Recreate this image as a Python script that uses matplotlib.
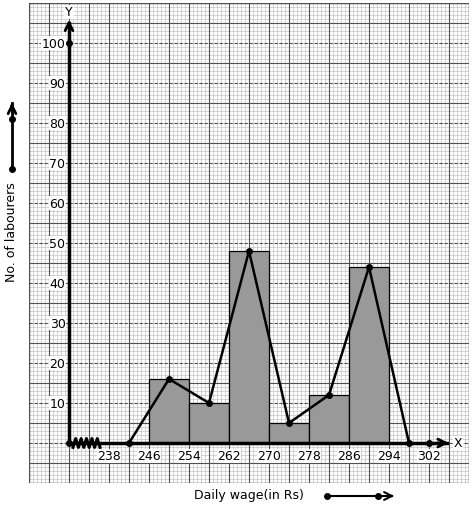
import numpy as np
import matplotlib
matplotlib.use("Agg")
from matplotlib import pyplot as plt

# data
bin_left = [246, 254, 262, 270, 278, 286]
bin_width = 8
labourers = [16, 10, 48, 5, 12, 44]
mid_points = [242, 250, 258, 266, 274, 282, 290, 298]
poly_values = [0, 16, 10, 48, 5, 12, 44, 0]
x_ticks = [238, 246, 254, 262, 270, 278, 286, 294, 302]
y_ticks = [10, 20, 30, 40, 50, 60, 70, 80, 90, 100]

fig = plt.figure(figsize=(4.74, 5.10), dpi=100)
ax = fig.add_axes([29 / 474, 26 / 510, 440 / 474, 480 / 510])
ax.set_xlim(222, 310)
ax.set_ylim(-10, 110)
ax.set_axis_off()

# graph paper
for x in np.arange(222, 310.01, 0.8):
    ax.axvline(x, color="#cccccc", lw=0.6, zorder=0)
for y in np.arange(-10, 110.01, 1):
    ax.axhline(y, color="#cccccc", lw=0.6, zorder=0)
for x in np.arange(222, 310.01, 4):
    ax.axvline(x, color="#505050", lw=0.8, zorder=1)
for y in np.arange(-10, 110.01, 5):
    if y % 10 == 0:
        ax.axhline(y, color="#505050", lw=0.8, ls=(0, (3, 1.5)), zorder=1)
    else:
        ax.axhline(y, color="#505050", lw=0.8, zorder=1)
ax.add_patch(plt.Rectangle((222, -10), 88, 120, fill=False, ec="#505050", lw=1.0, zorder=1))

# histogram
ax.bar(bin_left, labourers, width=bin_width, align="edge", color="#999999",
       edgecolor="black", lw=0.9, zorder=2)

# axes with arrows
ax.plot([230, 230], [0, 105], color="black", lw=2.5, zorder=3)
ax.plot([230, 305.5], [0, 0], color="black", lw=2.5, zorder=3)
ax.annotate("", xy=(230, 106.5), xytext=(230, 103), zorder=4,
            arrowprops=dict(arrowstyle="->", lw=2, color="black", mutation_scale=14))
ax.annotate("", xy=(306.5, 0), xytext=(303, 0), zorder=4,
            arrowprops=dict(arrowstyle="->", lw=2, color="black", mutation_scale=14))
ax.text(230, 107.8, "Y", ha="center", va="center", fontsize=9,
        bbox=dict(fc="white", ec="none", pad=0.5), zorder=4)
ax.text(307.8, 0, "X", ha="center", va="center", fontsize=9,
        bbox=dict(fc="white", ec="none", pad=0.5), zorder=4)

# axis break zigzag
zx = np.linspace(230.8, 236.2, 11)
zy = np.array([1.1 if i % 2 else -1.1 for i in range(11)])
ax.plot(zx, zy, color="black", lw=2.2, zorder=4)

# frequency polygon
ax.plot(mid_points, poly_values, color="black", lw=1.8, marker="o", ms=4, zorder=5)
ax.plot([230, 230, 302], [0, 100, 0], ls="none", marker="o", ms=4, color="black", zorder=5)

# tick labels
for v in y_ticks:
    ax.text(229.3, v, str(v), ha="right", va="center", fontsize=9,
            bbox=dict(fc="white", ec="none", pad=0.3), zorder=4)
for v in x_ticks:
    ax.text(v, -3.2, str(v), ha="center", va="center", fontsize=9,
            bbox=dict(fc="white", ec="none", pad=0.3), zorder=4)

# axis titles and pointer arrows outside the grid
fig.text(12 / 474, 1 - 232 / 510, "No. of labourers", rotation=90, ha="center",
         va="center", fontsize=9)
fig.text(249 / 474, 1 - 496 / 510, "Daily wage(in Rs)", ha="center", va="center", fontsize=9)

fig.add_artist(plt.Line2D([12 / 474, 12 / 474], [1 - 170 / 510, 1 - 104 / 510],
                          color="black", lw=2))
fig.add_artist(plt.Line2D([12 / 474] * 2, [1 - 170 / 510, 1 - 120 / 510], ls="none",
                          marker="o", ms=4, color="black"))
ax.annotate("", xy=(12, 510 - 101), xytext=(12, 510 - 110), xycoords="figure pixels",
            arrowprops=dict(arrowstyle="->", lw=2, color="black", mutation_scale=14))

fig.add_artist(plt.Line2D([327 / 474, 392 / 474], [1 - 497 / 510] * 2, color="black", lw=1.5))
fig.add_artist(plt.Line2D([327 / 474, 378 / 474], [1 - 497 / 510] * 2, ls="none",
                          marker="o", ms=4, color="black"))
ax.annotate("", xy=(397, 510 - 497), xytext=(388, 510 - 497), xycoords="figure pixels",
            arrowprops=dict(arrowstyle="->", lw=1.5, color="black", mutation_scale=14))

fig.savefig("out.png", dpi=100, facecolor="white")
